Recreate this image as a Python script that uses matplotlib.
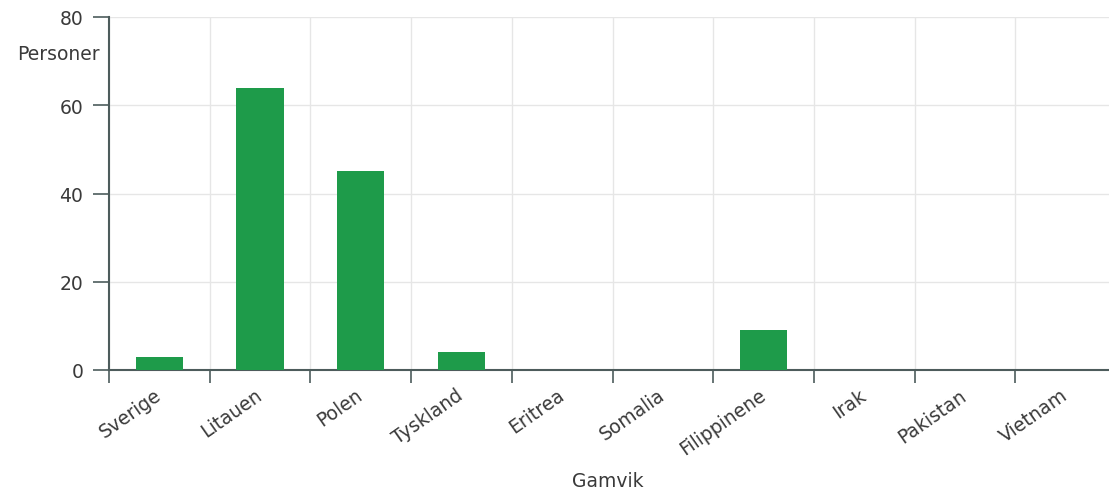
import matplotlib
matplotlib.use("Agg")
import matplotlib.pyplot as plt
from matplotlib.ticker import FixedLocator, NullFormatter

countries = ["Sverige", "Litauen", "Polen", "Tyskland", "Eritrea",
             "Somalia", "Filippinene", "Irak", "Pakistan", "Vietnam"]
persons = [3, 64, 45, 4, 0, 0, 9, 0, 0, 0]
y_ticks = [0, 20, 40, 60, 80]

plt.rcParams["font.family"] = ["DejaVu Sans"]

W, H = 1109, 489
fig = plt.figure(figsize=(W / 100, H / 100), dpi=100)
left, right, top, bottom = 109, 1109, 18, 371
ax = fig.add_axes([left / W, 1 - bottom / H, (right - left) / W, (bottom - top) / H])

band = 100.7
x = list(range(len(countries)))
ax.bar(x, persons, width=0.47, color="#1e9b4a", zorder=3)

ax.set_xlim(-0.5, -0.5 + (right - left) / band)
ax.set_ylim(0, 80)

axis_col = "#4d5c5c"
text_col = "#3a3a3a"

# boundaries between categories carry the ticks and grid lines
bounds = [i - 0.5 for i in range(len(countries) + 1)]
ax.xaxis.set_major_locator(FixedLocator(bounds))
ax.xaxis.set_major_formatter(NullFormatter())
ax.xaxis.set_minor_locator(FixedLocator(x))
ax.set_xticklabels(countries, minor=True, rotation=35, ha="right",
                   va="center", rotation_mode="anchor", fontsize=13.5,
                   color=text_col)
ax.tick_params(axis="x", which="major", length=9.5, width=1.2, color=axis_col)
ax.tick_params(axis="x", which="minor", length=0, pad=16.5)

ax.set_yticks(y_ticks)
ax.tick_params(axis="y", length=11.5, width=1.2, color=axis_col,
               labelsize=13.5, labelcolor=text_col, pad=7)

ax.grid(True, which="major", color="#e6e6e6", linewidth=1, zorder=0)

for side in ["top", "right"]:
    ax.spines[side].set_visible(False)
for side in ["left", "bottom"]:
    ax.spines[side].set_color(axis_col)
    ax.spines[side].set_linewidth(1.5)

fig.text(58 / W, 1 - 55 / H, "Personer", fontsize=13.5, color=text_col,
         ha="center", va="center")
fig.text(608 / W, 1 - 487 / H, "Gamvik", fontsize=13.5, color=text_col,
         ha="center", va="baseline")

fig.savefig("out.png", dpi=100)
